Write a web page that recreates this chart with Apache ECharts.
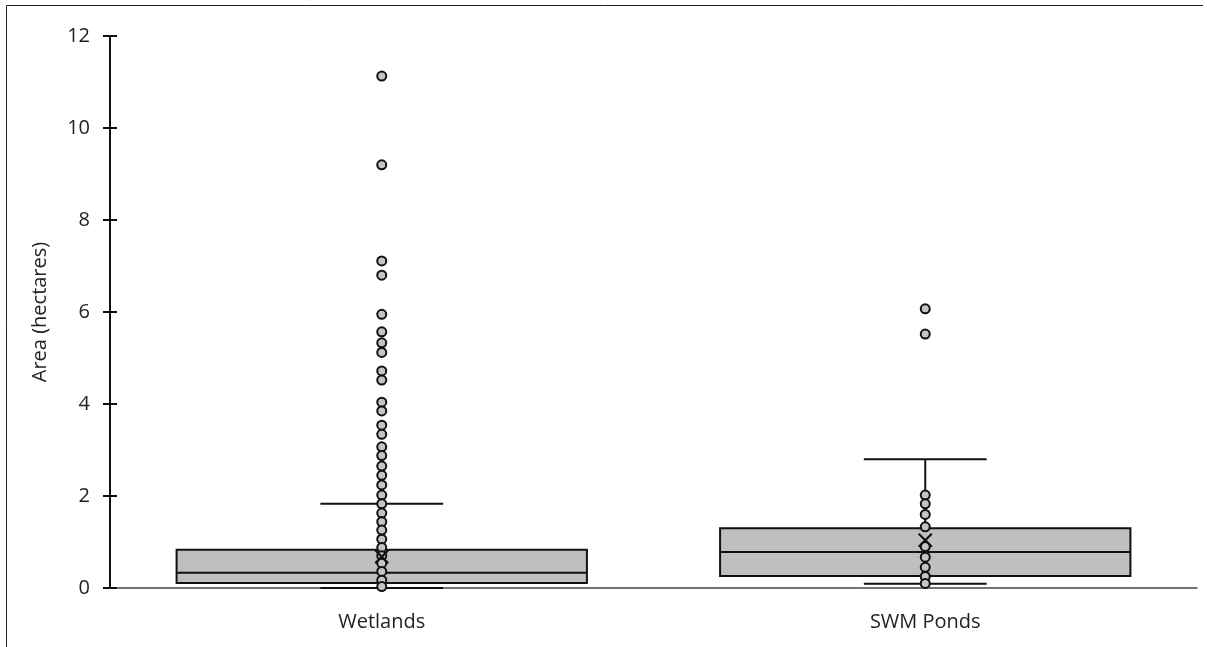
<!DOCTYPE html>
<html>
<head>
<meta charset="utf-8">
<script src="https://cdn.jsdelivr.net/npm/echarts@6/dist/echarts.min.js"></script>
<style>html,body{margin:0;padding:0;background:#fff}#c{width:1207px;height:647px}</style>
</head>
<body>
<div id="c"></div>
<script>
const categories = ['Wetlands', 'SWM Ponds'];
const yTicks = [0, 2, 4, 6, 8, 10, 12];
const boxMin = [0, 0.09];
const boxQ1 = [0.11, 0.26];
const boxMedian = [0.33, 0.78];
const boxQ3 = [0.83, 1.30];
const boxMax = [1.83, 2.80];
const boxMean = [0.68, 1.04];
const wetlandsPoints = [11.13, 9.20, 7.11, 6.80, 5.95, 5.57, 5.33, 5.12, 4.72, 4.52, 4.04, 3.85, 3.54, 3.34, 3.07, 2.88, 2.65, 2.45, 2.24, 2.02, 1.83, 1.63, 1.44, 1.26, 1.06, 0.88, 0.70, 0.54, 0.36, 0.17, 0.03];
const swmPoints = [6.07, 5.52, 2.02, 1.83, 1.60, 1.33, 0.90, 0.67, 0.45, 0.25, 0.10];

const FONT = 'Open Sans';
const chart = echarts.init(document.getElementById('c'));

const boxData = categories.map((c, i) => [i, boxMin[i], boxQ1[i], boxMedian[i], boxQ3[i], boxMax[i]]);
const pointData = [];
wetlandsPoints.forEach(v => pointData.push([0, v]));
swmPoints.forEach(v => pointData.push([1, v]));
const meanData = boxMean.map((v, i) => [i, v]);

function renderBox(params, api) {
  const idx = api.value(0);
  const band = api.size([1, 0])[0];
  const cx = api.coord([idx, 0])[0];
  const pMin = api.coord([idx, api.value(1)])[1];
  const pQ1 = api.coord([idx, api.value(2)])[1];
  const pMed = api.coord([idx, api.value(3)])[1];
  const pQ3 = api.coord([idx, api.value(4)])[1];
  const pMax = api.coord([idx, api.value(5)])[1];
  const bw = band * 0.755;
  const cw = band * 0.226;
  const ls = { stroke: '#111', lineWidth: 2 };
  return {
    type: 'group',
    children: [
      { type: 'line', shape: { x1: cx, y1: pQ3, x2: cx, y2: pMax }, style: ls },
      { type: 'line', shape: { x1: cx, y1: pQ1, x2: cx, y2: pMin }, style: ls },
      { type: 'line', shape: { x1: cx - cw / 2, y1: pMax, x2: cx + cw / 2, y2: pMax }, style: ls },
      { type: 'line', shape: { x1: cx - cw / 2, y1: pMin, x2: cx + cw / 2, y2: pMin }, style: ls },
      { type: 'rect', shape: { x: cx - bw / 2, y: pQ3, width: bw, height: pQ1 - pQ3 }, style: { fill: '#bfbfbf', stroke: '#111', lineWidth: 2 } },
      { type: 'line', shape: { x1: cx - bw / 2, y1: pMed, x2: cx + bw / 2, y2: pMed }, style: ls }
    ]
  };
}

chart.setOption({
  animation: false,
  backgroundColor: '#fff',
  grid: { left: 110, right: 10, top: 36, bottom: 59 },
  graphic: [{
    type: 'polyline',
    shape: { points: [[6.5, 647], [6.5, 5.5], [1203, 5.5]] },
    style: { stroke: '#222', lineWidth: 1, fill: null },
    silent: true
  }],
  xAxis: {
    type: 'category',
    data: categories,
    axisLine: { lineStyle: { color: '#444', width: 1.5 } },
    axisTick: { show: false },
    axisLabel: { color: '#222', fontFamily: FONT, fontSize: 20, margin: 24 },
    splitLine: { show: false }
  },
  yAxis: [{
    type: 'value',
    min: 0, max: 12, interval: 2,
    name: 'Area (hectares)',
    nameLocation: 'middle',
    nameGap: 60,
    nameTextStyle: { color: '#222', fontFamily: FONT, fontSize: 20 },
    axisLine: { show: true, lineStyle: { color: '#111', width: 2 } },
    axisTick: { show: true, length: 7, lineStyle: { color: '#111', width: 2 } },
    axisLabel: { color: '#222', fontFamily: FONT, fontSize: 20, margin: 20,
      formatter: v => yTicks.includes(v) ? String(v) : '' },
    splitLine: { show: false }
  }, {
    type: 'value',
    min: 0, max: 12, interval: 2,
    position: 'left',
    axisLine: { show: false },
    axisTick: { show: true, inside: true, length: 7, lineStyle: { color: '#111', width: 2 } },
    axisLabel: { show: false },
    splitLine: { show: false }
  }],
  series: [{
    type: 'custom',
    renderItem: renderBox,
    data: boxData,
    encode: { x: 0, y: [1, 2, 3, 4, 5] },
    z: 2
  }, {
    type: 'scatter',
    data: pointData,
    symbol: 'circle',
    symbolSize: 9,
    itemStyle: { color: '#c4c4c4', borderColor: '#111', borderWidth: 2, opacity: 1 },
    z: 3
  }, {
    type: 'scatter',
    data: meanData,
    symbol: 'path://M0,0L10,10M10,0L0,10',
    symbolSize: 13,
    itemStyle: { color: 'none', borderColor: '#111', borderWidth: 2.2, opacity: 1 },
    z: 4
  }]
});
</script>
</body>
</html>
